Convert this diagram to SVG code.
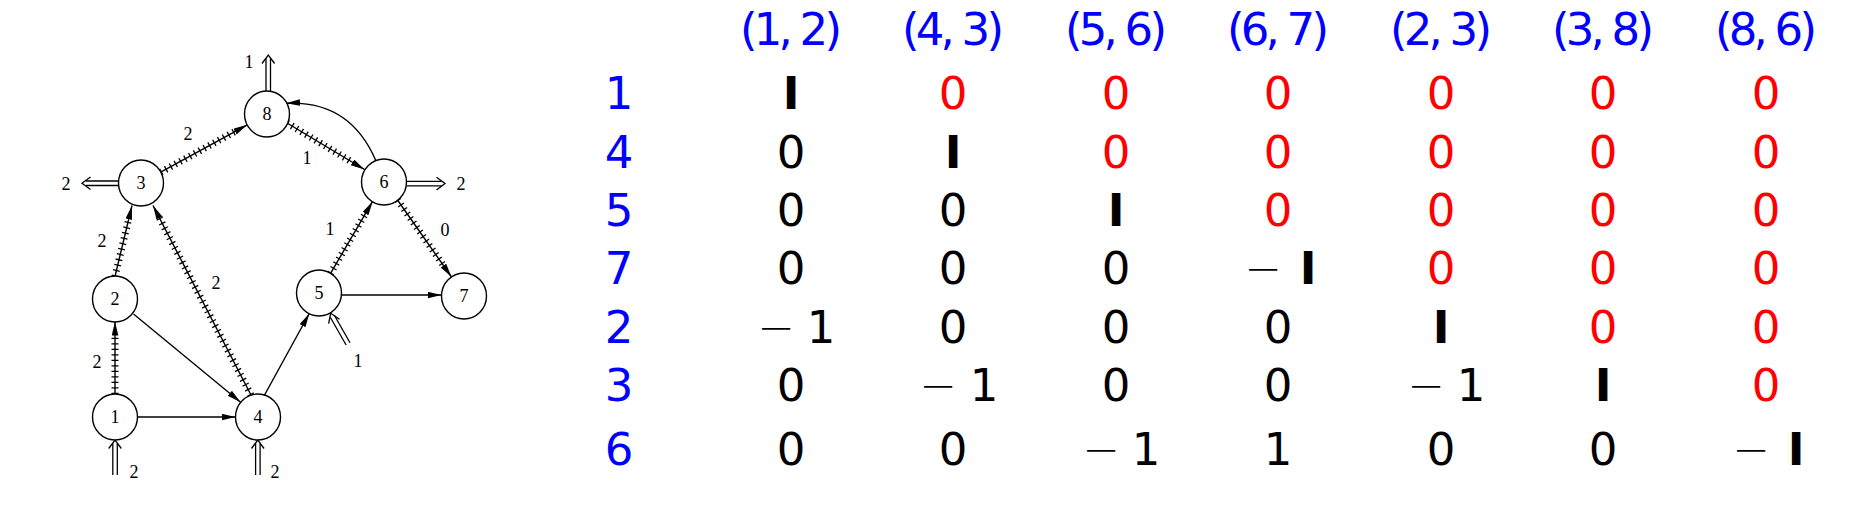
<svg xmlns="http://www.w3.org/2000/svg" width="1851" height="513" viewBox="0 0 1851 513">
<style>
.nd{fill:#fff;stroke:#000;stroke-width:1.4}
.nt{font-family:"Liberation Serif","DejaVu Serif",serif;font-size:18px;text-anchor:middle;fill:#000}
.el{font-family:"Liberation Serif","DejaVu Serif",serif;font-size:18px;text-anchor:middle;fill:#000}
.ln{stroke:#000;stroke-width:1.4;fill:none}
.tk{stroke:#000;stroke-width:7;stroke-dasharray:1.3 4.2;fill:none}
.db{stroke:#000;stroke-width:1.3;fill:none}
.tx{font-family:"DejaVu Sans","Liberation Sans",sans-serif;font-size:45px;text-anchor:middle}
.bl{fill:#0000ff}
.rd{fill:#ff0000}
.bk{fill:#000}
.bo{font-weight:bold}
.th{font-weight:200}
</style>
<defs>
<marker id="ah" markerUnits="userSpaceOnUse" markerWidth="15" markerHeight="8" refX="14" refY="3.3" orient="auto"><path d="M0,0 L14,3.3 L0,6.6 z" fill="#000"/></marker>
</defs>
<rect width="1851" height="513" fill="#fff"/>
<g id="connectors">
<line class="ln" x1="115" y1="394.5" x2="115" y2="321.5" marker-end="url(#ah)"/>
<line class="tk" x1="115" y1="394" x2="115" y2="336"/>
<line class="ln" x1="115" y1="276.5" x2="132" y2="205.5" marker-end="url(#ah)"/>
<line class="tk" x1="115" y1="276.5" x2="128.7" y2="219.1"/>
<line class="ln" x1="251" y1="395" x2="153" y2="205.5" marker-end="url(#ah)"/>
<line class="tk" x1="251" y1="395" x2="159.4" y2="217.9"/>
<line class="ln" x1="160.7" y1="172.2" x2="247.3" y2="124.8" marker-end="url(#ah)"/>
<line class="tk" x1="160.7" y1="172.2" x2="235" y2="131.5"/>
<line class="ln" x1="287" y1="123" x2="364.5" y2="169.5" marker-end="url(#ah)"/>
<line class="tk" x1="287" y1="123" x2="352.5" y2="162.3"/>
<line class="ln" x1="330.4" y1="273.6" x2="372.6" y2="201.4" marker-end="url(#ah)"/>
<line class="tk" x1="330.4" y1="273.6" x2="365.5" y2="213.5"/>
<line class="ln" x1="397.5" y1="200" x2="451.5" y2="277" marker-end="url(#ah)"/>
<line class="tk" x1="397.5" y1="200" x2="443.5" y2="265.5"/>
<line class="ln" x1="137.5" y1="417" x2="235.5" y2="417" marker-end="url(#ah)"/>
<line class="ln" x1="133.5" y1="314" x2="240.6" y2="402.2" marker-end="url(#ah)"/>
<line class="ln" x1="264" y1="396" x2="309.3" y2="313.5" marker-end="url(#ah)"/>
<line class="ln" x1="341.5" y1="295" x2="441.5" y2="295" marker-end="url(#ah)"/>
<path class="ln" d="M376,161 Q350,100 286,103.3" marker-end="url(#ah)"/>
<g id="out8"><line class="db" x1="266" y1="91.5" x2="266" y2="58.5"/><line class="db" x1="270.5" y1="91.5" x2="270.5" y2="58.5"/><polyline class="db" points="262,63.5 268.3,55 274.6,63.5"/></g>
<g id="out3"><line class="db" x1="118.5" y1="181" x2="86" y2="181"/><line class="db" x1="118.5" y1="185.5" x2="86" y2="185.5"/><polyline class="db" points="90.5,177 82,183.3 90.5,189.6"/></g>
<g id="out6"><line class="db" x1="406.5" y1="181.3" x2="441.5" y2="181.3"/><line class="db" x1="406.5" y1="185.8" x2="441.5" y2="185.8"/><polyline class="db" points="436.5,177.3 445,183.6 436.5,189.9"/></g>
<g id="in1"><line class="db" x1="112.8" y1="475" x2="112.8" y2="443.5"/><line class="db" x1="117.3" y1="475" x2="117.3" y2="443.5"/><polyline class="db" points="108.7,448.5 115,440 121.3,448.5"/></g>
<g id="in4"><line class="db" x1="255.6" y1="475" x2="255.6" y2="443.5"/><line class="db" x1="260.1" y1="475" x2="260.1" y2="443.5"/><polyline class="db" points="251.5,448.5 257.8,440 264.1,448.5"/></g>
<g id="in5"><line class="db" x1="346.1" y1="345" x2="330.3" y2="317.2"/><line class="db" x1="350" y1="342.8" x2="334.2" y2="315"/><polyline class="db" points="328.6,323.7 330.7,313.3 339.5,319.2"/></g>
</g>
<g id="edge-labels">
<text class="el" x="249" y="68">1</text>
<text class="el" x="188" y="140">2</text>
<text class="el" x="307" y="163.5">1</text>
<text class="el" x="66" y="189.5">2</text>
<text class="el" x="461" y="189.5">2</text>
<text class="el" x="102" y="247">2</text>
<text class="el" x="216" y="289">2</text>
<text class="el" x="330" y="235">1</text>
<text class="el" x="445" y="236">0</text>
<text class="el" x="97" y="368">2</text>
<text class="el" x="358" y="367">1</text>
<text class="el" x="134" y="478">2</text>
<text class="el" x="275" y="478">2</text>
</g>
<g id="node1"><ellipse class="nd" cx="115" cy="417" rx="22.5" ry="23"/><text class="nt" x="115" y="423">1</text></g>
<g id="node2"><ellipse class="nd" cx="115" cy="299" rx="22.5" ry="23"/><text class="nt" x="115" y="305">2</text></g>
<g id="node3"><ellipse class="nd" cx="141" cy="183" rx="22.5" ry="23"/><text class="nt" x="141" y="189">3</text></g>
<g id="node4"><ellipse class="nd" cx="258" cy="417" rx="22.5" ry="23"/><text class="nt" x="258" y="423">4</text></g>
<g id="node5"><ellipse class="nd" cx="319" cy="293" rx="22.5" ry="23"/><text class="nt" x="319" y="299">5</text></g>
<g id="node6"><ellipse class="nd" cx="384" cy="182" rx="22.5" ry="23"/><text class="nt" x="384" y="188">6</text></g>
<g id="node7"><ellipse class="nd" cx="464" cy="296" rx="22.5" ry="23"/><text class="nt" x="464" y="302">7</text></g>
<g id="node8"><ellipse class="nd" cx="267" cy="114" rx="22.5" ry="23"/><text class="nt" x="267" y="120">8</text></g>
<g id="table-header" class="tx bl">
<text x="791" y="45" textLength="102" lengthAdjust="spacing">(1, 2)</text>
<text x="953" y="45" textLength="102" lengthAdjust="spacing">(4, 3)</text>
<text x="1116" y="45" textLength="102" lengthAdjust="spacing">(5, 6)</text>
<text x="1278" y="45" textLength="102" lengthAdjust="spacing">(6, 7)</text>
<text x="1441" y="45" textLength="102" lengthAdjust="spacing">(2, 3)</text>
<text x="1603" y="45" textLength="102" lengthAdjust="spacing">(3, 8)</text>
<text x="1766" y="45" textLength="102" lengthAdjust="spacing">(8, 6)</text>
</g>
<g id="row-labels" class="tx bl">
<text x="619" y="109">1</text>
<text x="619" y="168">4</text>
<text x="619" y="226">5</text>
<text x="619" y="284">7</text>
<text x="619" y="343">2</text>
<text x="619" y="401">3</text>
<text x="619" y="465">6</text>
</g>
<g id="matrix" class="tx">
<text class="bk bo" x="791" y="109">I</text>
<text class="rd" x="953" y="109">0</text>
<text class="rd" x="1116" y="109">0</text>
<text class="rd" x="1278" y="109">0</text>
<text class="rd" x="1441" y="109">0</text>
<text class="rd" x="1603" y="109">0</text>
<text class="rd" x="1766" y="109">0</text>
<text class="bk" x="791" y="168">0</text>
<text class="bk bo" x="953" y="168">I</text>
<text class="rd" x="1116" y="168">0</text>
<text class="rd" x="1278" y="168">0</text>
<text class="rd" x="1441" y="168">0</text>
<text class="rd" x="1603" y="168">0</text>
<text class="rd" x="1766" y="168">0</text>
<text class="bk" x="791" y="226">0</text>
<text class="bk" x="953" y="226">0</text>
<text class="bk bo" x="1116" y="226">I</text>
<text class="rd" x="1278" y="226">0</text>
<text class="rd" x="1441" y="226">0</text>
<text class="rd" x="1603" y="226">0</text>
<text class="rd" x="1766" y="226">0</text>
<text class="bk" x="791" y="284">0</text>
<text class="bk" x="953" y="284">0</text>
<text class="bk" x="1116" y="284">0</text>
<text class="bk" y="284"><tspan class="th" x="1263">−</tspan><tspan class="bo" x="1308">I</tspan></text>
<text class="rd" x="1441" y="284">0</text>
<text class="rd" x="1603" y="284">0</text>
<text class="rd" x="1766" y="284">0</text>
<text class="bk" y="343"><tspan class="th" x="776">−</tspan><tspan x="821">1</tspan></text>
<text class="bk" x="953" y="343">0</text>
<text class="bk" x="1116" y="343">0</text>
<text class="bk" x="1278" y="343">0</text>
<text class="bk bo" x="1441" y="343">I</text>
<text class="rd" x="1603" y="343">0</text>
<text class="rd" x="1766" y="343">0</text>
<text class="bk" x="791" y="401">0</text>
<text class="bk" y="401"><tspan class="th" x="938">−</tspan><tspan x="984">1</tspan></text>
<text class="bk" x="1116" y="401">0</text>
<text class="bk" x="1278" y="401">0</text>
<text class="bk" y="401"><tspan class="th" x="1426">−</tspan><tspan x="1471">1</tspan></text>
<text class="bk bo" x="1603" y="401">I</text>
<text class="rd" x="1766" y="401">0</text>
<text class="bk" x="791" y="465">0</text>
<text class="bk" x="953" y="465">0</text>
<text class="bk" y="465"><tspan class="th" x="1101">−</tspan><tspan x="1146">1</tspan></text>
<text class="bk" x="1278" y="465">1</text>
<text class="bk" x="1441" y="465">0</text>
<text class="bk" x="1603" y="465">0</text>
<text class="bk" y="465"><tspan class="th" x="1751">−</tspan><tspan class="bo" x="1796">I</tspan></text>
</g>
</svg>
